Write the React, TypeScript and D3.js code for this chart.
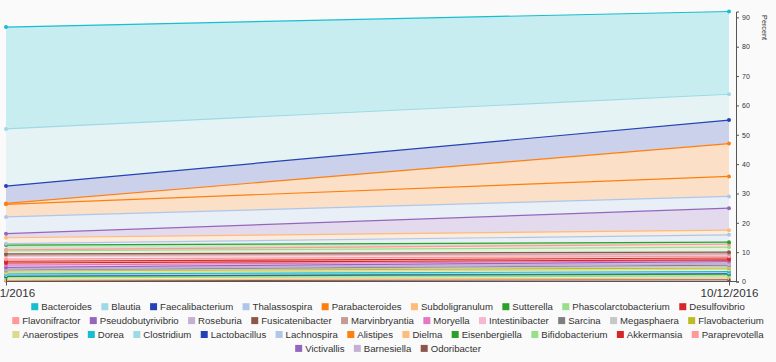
import React, { useEffect, useRef } from 'react';
import * as d3 from 'd3';

// two sampling dates
const sampleDates = ['2016-10-11', '2016-10-12'];

// genera in legend order
const genera = [
  'Bacteroides', 'Blautia', 'Faecalibacterium', 'Thalassospira', 'Parabacteroides',
  'Subdoligranulum', 'Sutterella', 'Phascolarctobacterium', 'Desulfovibrio', 'Flavonifractor',
  'Pseudobutyrivibrio', 'Roseburia', 'Fusicatenibacter', 'Marvinbryantia', 'Moryella',
  'Intestinibacter', 'Sarcina', 'Megasphaera', 'Flavobacterium', 'Anaerostipes',
  'Dorea', 'Clostridium', 'Lactobacillus', 'Lachnospira', 'Alistipes',
  'Dielma', 'Eisenbergiella', 'Bifidobacterium', 'Akkermansia', 'Paraprevotella',
  'Victivallis', 'Barnesiella', 'Odoribacter',
];

// percent per genus, same order as above
const firstSample = [
  34.7, 19.5, 5.9, 5.7, 4.3,
  2.0, 1.6, 1.0, 0.6, 0.4,
  0.4, 0.2, 0.4, 0.4, 0.8,
  1.0, 0.2, 0.2, 0.6, 0.4,
  0.4, 0.2, 0.3, 0.5, 0.3,
  0.2, 0.5, 0.7, 0.7, 0.7,
  1.4, 0.2, 0.3,
];
const secondSample = [
  28.2, 8.8, 8.0, 4.0, 6.8,
  1.6, 0.7, 1.7, 0.6, 1.0,
  0.6, 0.3, 0.6, 0.4, 0.3,
  0.4, 0.5, 0.5, 0.5, 0.7,
  0.4, 0.2, 0.3, 2.5, 11.2,
  0.6, 0.6, 0.7, 0.3, 0.6,
  7.5, 0.3, 0.6,
];

// stacking, bottom to top
const stackOrder = [
  'Odoribacter', 'Dielma', 'Bifidobacterium', 'Eisenbergiella', 'Lactobacillus',
  'Clostridium', 'Dorea', 'Anaerostipes', 'Flavobacterium', 'Megasphaera',
  'Sarcina', 'Barnesiella', 'Roseburia', 'Pseudobutyrivibrio', 'Moryella',
  'Akkermansia', 'Desulfovibrio', 'Paraprevotella', 'Intestinibacter', 'Marvinbryantia',
  'Fusicatenibacter', 'Phascolarctobacterium', 'Flavonifractor', 'Sutterella', 'Lachnospira',
  'Subdoligranulum', 'Victivallis', 'Thalassospira', 'Parabacteroides', 'Alistipes',
  'Faecalibacterium', 'Blautia', 'Bacteroides',
];

const yTicks = [0, 10, 20, 30, 40, 50, 60, 70, 80, 90];

const palette = [
  '#2442b5', '#aec7e8', '#ff7f0e', '#ffbb78', '#2ca02c', '#98df8a', '#d62728', '#ff9896',
  '#9467bd', '#c5b0d5', '#8c564b', '#c49c94', '#e377c2', '#f7b6d2', '#7f7f7f', '#c7c7c7',
  '#bcbd22', '#dbdb8d', '#17becf', '#9edae5',
];

const font = '"Liberation Sans", Arial, sans-serif';

const App = () => {
  const ref = useRef<SVGSVGElement>(null);

  useEffect(() => {
    if (!ref.current) return;
    const svg = d3.select(ref.current);
    svg.selectAll('*').remove();

    const width = 776;
    const height = 362;
    svg.append('rect').attr('width', width).attr('height', height).attr('fill', '#fafafa');

    const parse = d3.timeParse('%Y-%m-%d');
    const days = sampleDates.map((d) => parse(d) as Date);
    const rows = days.map((day, j) => {
      const r: any = { day };
      const vals = j === 0 ? firstSample : secondSample;
      genera.forEach((g, i) => (r[g] = vals[i]));
      return r;
    });

    const stack = d3
      .stack<any>()
      .keys(genera)
      .order(() => stackOrder.map((name) => genera.indexOf(name)));
    const layers = stack(rows);

    const color = (name: string) => palette[(genera.indexOf(name) + 18) % 20];

    const x = d3
      .scaleTime()
      .domain(d3.extent(days) as [Date, Date])
      .range([6, 729]);
    const y = d3
      .scaleLinear()
      .domain([0, d3.max(layers, (l) => d3.max(l, (d) => d[1])) as number])
      .range([281.5, 11.5]);

    const area = d3
      .area<any>()
      .x((d) => x(d.data.day))
      .y0((d) => y(d[0]))
      .y1((d) => y(d[1]));
    const line = d3
      .line<any>()
      .x((d) => x(d.data.day))
      .y((d) => y(d[1]));

    const sorted = stackOrder.map((name) => layers.find((l) => l.key === name)!);

    svg
      .append('g')
      .selectAll('path')
      .data(sorted)
      .join('path')
      .attr('d', area)
      .attr('fill', (d) => color(d.key))
      .attr('fill-opacity', 0.22);

    svg
      .append('g')
      .selectAll('path')
      .data(sorted)
      .join('path')
      .attr('d', line)
      .attr('fill', 'none')
      .attr('stroke', (d) => color(d.key))
      .attr('stroke-width', 1.2);

    const dots = svg.append('g');
    sorted.forEach((l) => {
      dots
        .selectAll(null)
        .data(l)
        .join('circle')
        .attr('cx', (d: any) => x(d.data.day))
        .attr('cy', (d: any) => y(d[1]))
        .attr('r', 2)
        .attr('fill', color(l.key));
    });

    // x axis
    svg
      .append('line')
      .attr('x1', 6)
      .attr('x2', 736)
      .attr('y1', y(0))
      .attr('y2', y(0))
      .attr('stroke', '#555');
    const xAxis = svg
      .append('g')
      .attr('transform', `translate(0, ${y(0)})`)
      .call(
        d3
          .axisBottom(x)
          .tickValues(days)
          .tickFormat(d3.timeFormat('%m/%d/%Y') as any)
          .tickSizeInner(4)
          .tickSizeOuter(0)
          .tickPadding(3),
      );
    xAxis.select('.domain').remove();
    xAxis.selectAll('.tick line').attr('y1', -3).attr('stroke', '#555');
    xAxis.selectAll('text').attr('font-family', font).attr('font-size', 11.6).attr('fill', '#333');

    // y axis
    const yAxis = svg
      .append('g')
      .attr('transform', 'translate(736, 0)')
      .call(d3.axisRight(y).tickValues(yTicks).tickSize(3).tickPadding(3));
    yAxis.select('.domain').attr('stroke', '#555');
    yAxis.selectAll('.tick line').attr('stroke', '#555');
    yAxis.selectAll('text').attr('font-family', font).attr('font-size', 7).attr('fill', '#333');

    svg
      .append('text')
      .attr('transform', 'translate(762, 27.5) rotate(90)')
      .attr('text-anchor', 'middle')
      .attr('font-family', font)
      .attr('font-size', 7.2)
      .attr('fill', '#333')
      .text('Percent');

    // legend
    const legend = svg.append('g');
    const items = genera.map((name) => {
      const g = legend.append('g');
      g.append('rect').attr('width', 7).attr('height', 7).attr('y', -3.5).attr('fill', color(name));
      const t = g
        .append('text')
        .attr('x', 10)
        .attr('dy', '0.35em')
        .attr('font-family', font)
        .attr('font-size', 9.6)
        .attr('fill', '#333')
        .text(name);
      return { g, w: 10 + (t.node() as SVGTextElement).getComputedTextLength() };
    });

    const gap = 9.4;
    const maxW = 772;
    const rowsOut: { g: any; w: number }[][] = [[]];
    let rowW = 0;
    items.forEach((it) => {
      const cur = rowsOut[rowsOut.length - 1];
      const next = cur.length ? rowW + gap + it.w : it.w;
      if (cur.length && next > maxW) {
        rowsOut.push([it]);
        rowW = it.w;
      } else {
        cur.push(it);
        rowW = next;
      }
    });
    rowsOut.forEach((row, r) => {
      const extent = d3.sum(row, (it) => it.w) + gap * (row.length - 1);
      let cx = 388 - extent / 2;
      const cy = 306.7 + r * 13.9;
      row.forEach((it) => {
        it.g.attr('transform', `translate(${cx}, ${cy})`);
        cx += it.w + gap;
      });
    });
  }, []);

  return (
    <svg
      ref={ref}
      width={776}
      height={362}
      style={{ position: 'absolute', left: 0, top: 0 }}
    />
  );
};

export default App;
